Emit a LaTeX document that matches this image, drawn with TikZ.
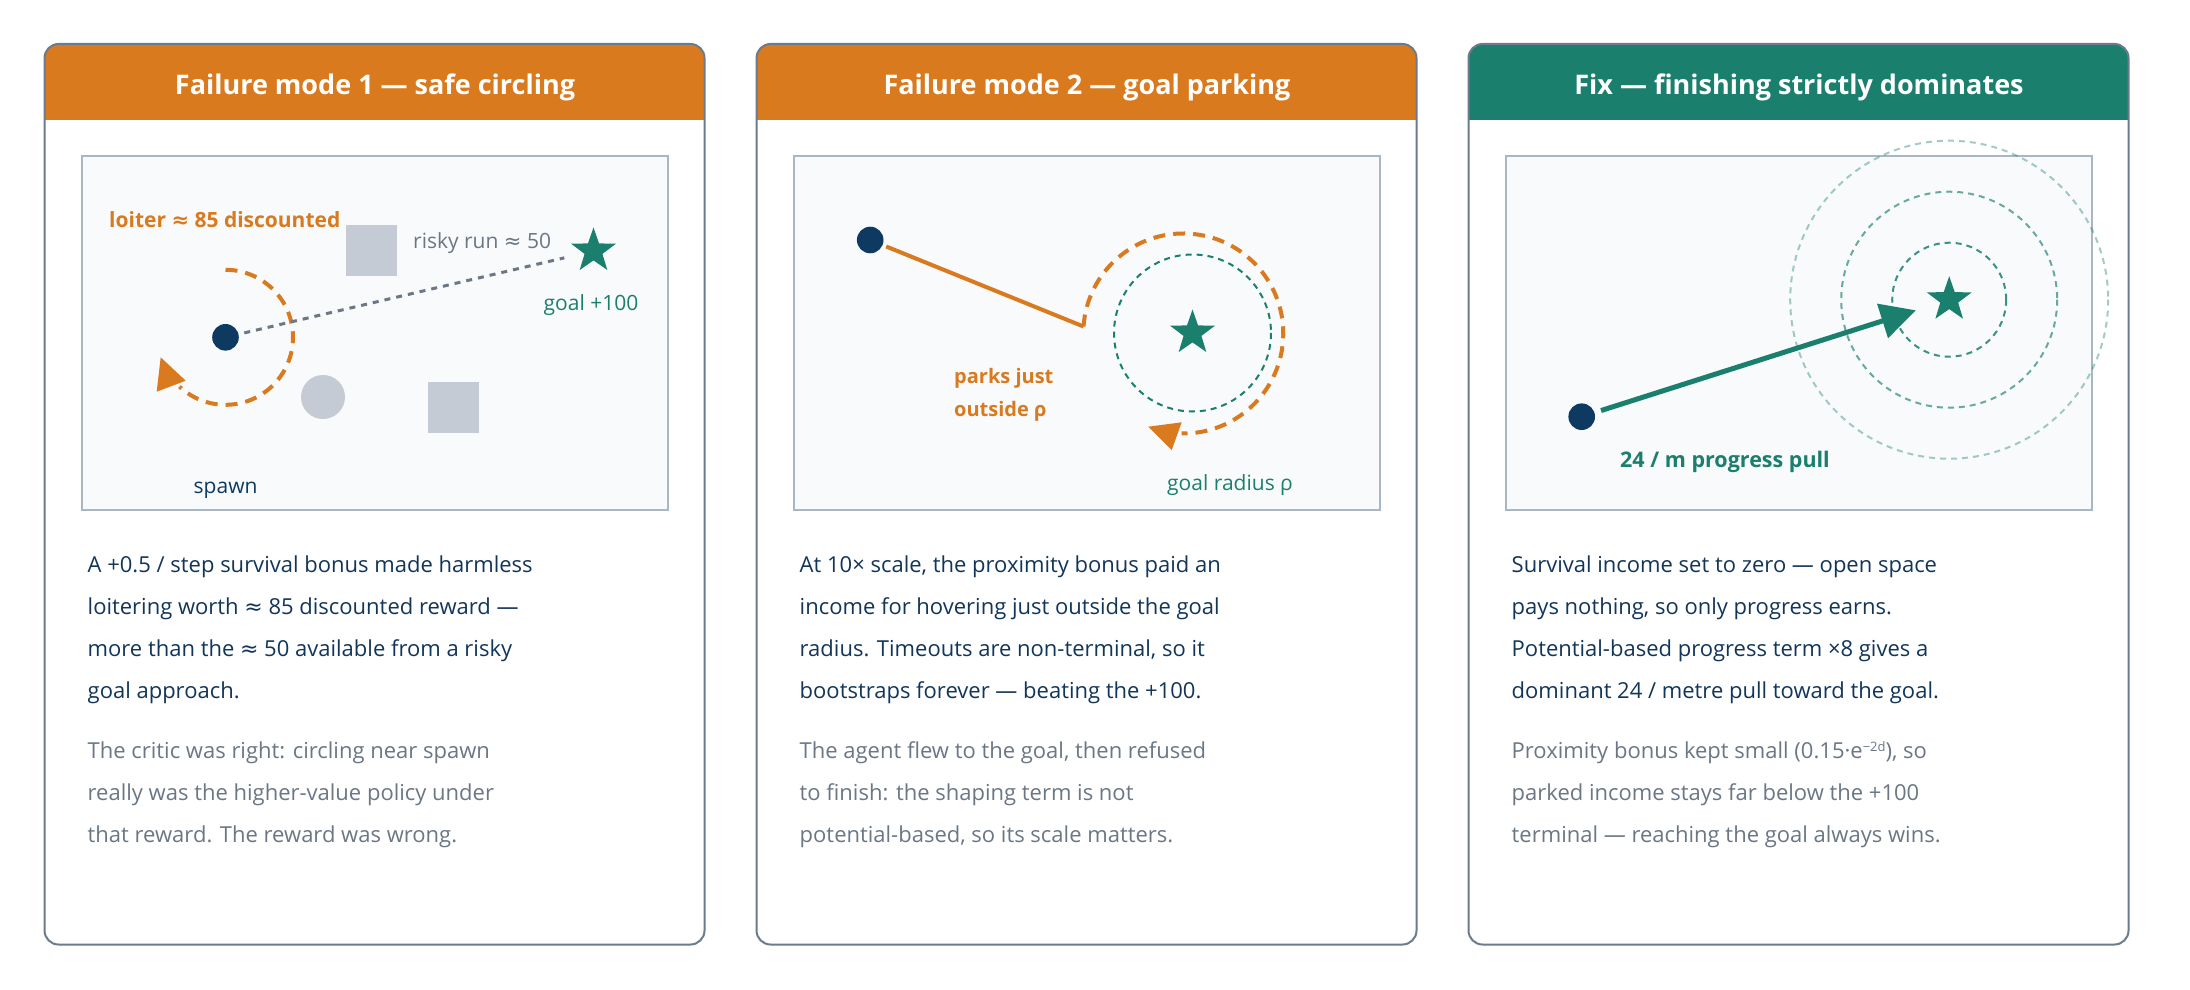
\documentclass[tikz,border=0pt]{standalone}
\usepackage{fontspec}
\setmainfont{Open Sans}
\newfontfamily\symf{DejaVu Sans}
\newcommand\apx{{\symf ≈}}
\usetikzlibrary{shapes.geometric,arrows.meta,calc}
\definecolor{hdrorange}{HTML}{D97A1F}
\definecolor{hdrteal}{HTML}{1B7F6E}
\definecolor{navy}{HTML}{0E3A62}
\definecolor{bodytxt}{HTML}{12365A}
\definecolor{graytxt}{HTML}{6B7785}
\definecolor{panelborder}{HTML}{6B7A8C}
\definecolor{boxborder}{HTML}{A9B6C3}
\definecolor{boxfill}{HTML}{F8FAFC}
\definecolor{obst}{HTML}{C4CBD4}
\newcommand\setfs[1]{\fontsize{#1}{#1}\selectfont}
\tikzset{
  paneltitle/.style={font=\setfs{27}\bfseries, text=white, anchor=base, inner sep=0},
  bodyline/.style={font=\setfs{22}, text=bodytxt, anchor=base west, inner sep=0},
  noteline/.style={bodyline, text=graytxt},
  lbl/.style={font=\setfs{21}, anchor=base west, inner sep=0},
  lblb/.style={lbl, font=\setfs{20}\bfseries},
  agent/.style={circle, fill=navy, minimum size=26.6, inner sep=0, outer sep=0},
  goalstar/.style={star, star points=5, star point ratio=2.5, fill=hdrteal, minimum size=47, inner sep=0, outer sep=0},
  panelframe/.style={draw=panelborder, line width=2, rounded corners=14},
  arena/.style={draw=boxborder, line width=2, fill=boxfill},
  orangedash/.style={draw=hdrorange, line width=4, dash pattern=on 12 off 8},
  ringdash/.style={draw=hdrteal, line width=2, dash pattern=on 6 off 5},
}
\begin{document}
\begin{tikzpicture}[x=1pt,y=-1pt]
\useasboundingbox (0,0) rectangle (2190,990);
\fill[white] (0,0) rectangle (2190,990);

% ---------- panel frames ----------
\begin{scope}
  \clip[rounded corners=14] (44.5,44) rectangle (704.5,944.5);
  \fill[hdrorange] (44.5,44) rectangle (704.5,120);
\end{scope}
\draw[panelframe] (44.5,44) rectangle (704.5,944.5);
\begin{scope}
  \clip[rounded corners=14] (756.5,44) rectangle (1416.5,944.5);
  \fill[hdrorange] (756.5,44) rectangle (1416.5,120);
\end{scope}
\draw[panelframe] (756.5,44) rectangle (1416.5,944.5);
\begin{scope}
  \clip[rounded corners=14] (1468.5,44) rectangle (2128.5,944.5);
  \fill[hdrteal] (1468.5,44) rectangle (2128.5,120);
\end{scope}
\draw[panelframe] (1468.5,44) rectangle (2128.5,944.5);

\node[paneltitle] (t1) at (375,94) {Failure mode 1 — safe circling};
\node[paneltitle] (t2) at (1087,94) {Failure mode 2 — goal parking};
\node[paneltitle] (t3) at (1799,94) {Fix — finishing strictly dominates};

% ---------- arenas ----------
\draw[arena] (82,156) rectangle (668,510);
\draw[arena] (794,156) rectangle (1380,510);
\draw[arena] (1506,156) rectangle (2092,510);

% ---------- panel 1 scene ----------
\fill[obst] (346,225) rectangle (397,276);
\fill[obst] (428,382) rectangle (479,433);
\fill[obst] (323,397) circle[radius=22];
\draw[orangedash] (225.5,269.8) arc[start angle=-90, end angle=133, radius=67.5];
\fill[hdrorange] (160.7,357.3) -- (156.7,391.7) -- (185.7,380.7) -- cycle;
\node[agent] (a1) at (225.5,337.3) {};
\node[goalstar] (g1) at (593.5,251) {};
\draw[draw=graytxt, line width=3, dash pattern=on 6 off 6, shorten <=6] (a1) -- ($(g1)!30pt!(a1)$);
\node[lblb, font=\setfs{21}\bfseries, text=hdrorange] (l1a) at (109,227) {loiter \apx{} 85 discounted};
\node[lbl, text=graytxt] (l1b) at (413,248.5) {risky run \apx{} 50};
\node[lbl, text=hdrteal] (l1c) at (543.5,310) {goal +100};
\node[lbl, text=navy] (l1d) at (193.5,493.3) {spawn};

% ---------- panel 2 scene ----------
\draw[ringdash] (1192.5,333) circle[radius=78.5];
\coordinate (p2s) at (1083.5,326.5);
\node[agent] (a2) at (870.2,240) {};
\draw[hdrorange, line width=4, shorten <=4] (a2) -- (p2s);
\draw[orangedash] (p2s) arc[start angle=-176, end angle=91, radius=100];
\fill[hdrorange] (1148.3,426.7) -- (1181.7,422.3) -- (1171.7,450) -- cycle;
\node[goalstar] (g2) at (1192.5,333) {};
\node[lblb, text=hdrorange] (l2a) at (954,383.3) {parks just};
\node[lblb, text=hdrorange] (l2b) at (954,416) {outside ρ};
\node[lbl, text=hdrteal] (l2c) at (1167,490.7) {goal radius ρ};

% ---------- panel 3 scene ----------
\draw[ringdash, draw opacity=0.4] (1949.2,299.7) circle[radius=159];
\draw[ringdash, draw opacity=0.65] (1949.2,299.7) circle[radius=108];
\draw[ringdash, draw opacity=0.85] (1949.2,299.7) circle[radius=57];
\node[goalstar] (g3) at (1949.2,299.7) {};
\node[agent] (a3) at (1581.7,416.7) {};
\draw[hdrteal, line width=5, shorten <=7, -{Triangle[length=35pt,width=35pt]}] (a3) -- ($(g3)!35pt!(a3)$);
\node[lblb, font=\setfs{21.5}\bfseries, text=hdrteal] (l3a) at (1620,467.7) {24 / m progress pull};

% ---------- text panel 1 ----------
\node[bodyline] (b11) at (87.5,572) {A +0.5 / step survival bonus made harmless};
\node[bodyline] (b12) at (87.5,614) {loitering worth \apx{} 85 discounted reward —};
\node[bodyline] (b13) at (87.5,656) {more than the \apx{} 50 available from a risky};
\node[bodyline] (b14) at (87.5,698) {goal approach.};
\node[noteline] (n11) at (87.5,758) {The critic was right: circling near spawn};
\node[noteline] (n12) at (87.5,800) {really was the higher-value policy under};
\node[noteline] (n13) at (87.5,842) {that reward. The reward was wrong.};

% ---------- text panel 2 ----------
\node[bodyline] (b21) at (799.5,572) {At 10× scale, the proximity bonus paid an};
\node[bodyline] (b22) at (799.5,614) {income for hovering just outside the goal};
\node[bodyline] (b23) at (799.5,656) {radius. Timeouts are non-terminal, so it};
\node[bodyline] (b24) at (799.5,698) {bootstraps forever — beating the +100.};
\node[noteline] (n21) at (799.5,758) {The agent flew to the goal, then refused};
\node[noteline] (n22) at (799.5,800) {to finish: the shaping term is not};
\node[noteline] (n23) at (799.5,842) {potential-based, so its scale matters.};

% ---------- text panel 3 ----------
\node[bodyline] (b31) at (1511.5,572) {Survival income set to zero — open space};
\node[bodyline] (b32) at (1511.5,614) {pays nothing, so only progress earns.};
\node[bodyline] (b33) at (1511.5,656) {Potential-based progress term ×8 gives a};
\node[bodyline] (b34) at (1511.5,698) {dominant 24 / metre pull toward the goal.};
\node[noteline] (n31) at (1511.5,758) {Proximity bonus kept small (0.15·e\raisebox{7pt}{\setfs{13}−2d}), so};
\node[noteline] (n32) at (1511.5,800) {parked income stays far below the +100};
\node[noteline] (n33) at (1511.5,842) {terminal — reaching the goal always wins.};
\end{tikzpicture}
\end{document}
